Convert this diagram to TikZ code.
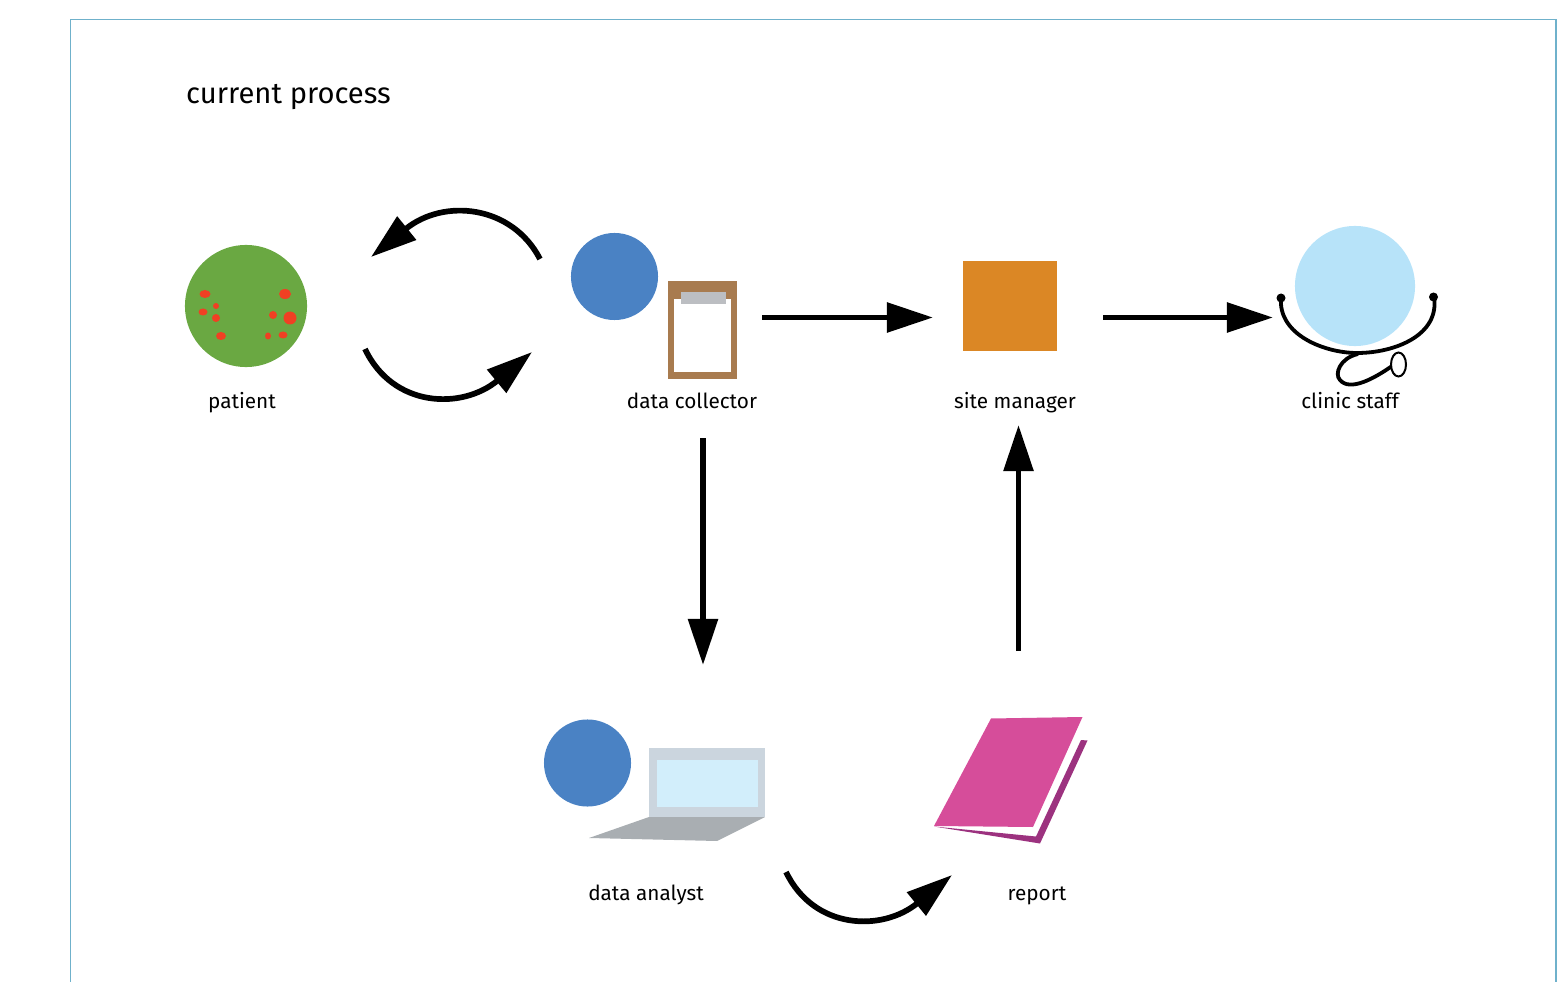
\documentclass[tikz,border=0pt]{standalone}
\usepackage{xcolor}
\usepackage{fontspec}
\setmainfont{Fira Sans}
\usetikzlibrary{arrows.meta}
\definecolor{framecol}{HTML}{6FB1CB}
\definecolor{patientcol}{HTML}{6AA842}
\definecolor{spotcol}{HTML}{F04023}
\definecolor{staffcol}{HTML}{4A82C4}
\definecolor{boardcol}{HTML}{A87B4F}
\definecolor{clipcol}{HTML}{BCBEC2}
\definecolor{managercol}{HTML}{DB8725}
\definecolor{cliniccol}{HTML}{B7E3F9}
\definecolor{lidcol}{HTML}{CBD5DE}
\definecolor{screencol}{HTML}{D2EEFB}
\definecolor{basecol}{HTML}{A9AEB2}
\definecolor{coverhi}{HTML}{D64D9A}
\definecolor{coverlo}{HTML}{9C327F}
\tikzset{
 disc/.style={circle,inner sep=0pt},
 box/.style={rectangle,inner sep=0pt},
 lab/.style={inner sep=0pt,anchor=base,text=black,font=\fontsize{5.9}{8}\selectfont},
 flow/.style={black,line width=.057cm,-{Triangle[length=.46cm,width=.29cm]}},
}

\begin{document}
\begin{tikzpicture} [x=.01cm,y=-.01cm]
\useasboundingbox (0,0) rectangle (1560,982);
\draw[framecol,line width=.014cm] (70.5,982)--(70.5,19.5)--(1556,19.5)--(1556,982);
\node[lab,anchor=base west,font=\fontsize{8.3}{10}\selectfont] (title) at (185.5,104) {current process};

\node[disc,fill=patientcol,minimum size=1.22cm] (patient) at (246,306) {};
\foreach \x/\y/\rx/\ry in {205/294/5.5/4,216/306/3/3,203/312/4.5/3.5,216/318/4/4,221/336/5/4,
  285/294/6/5,273/315/4/4,290/318/6.5/6.5,268/336/3/3.5,283/335/4.5/3.5} {
 \fill[spotcol] (\x,\y) ellipse[x radius=\rx,y radius=\ry];
}
\node[lab] (patientlab) at (242,409) {patient};

\node[disc,fill=staffcol,minimum size=.87cm] (collector) at (614.5,276.5) {};
\node[box,fill=boardcol,minimum width=.69cm,minimum height=.98cm] (board) at (702.5,330) {};
\node[box,fill=white,minimum width=.57cm,minimum height=.73cm] (paper) at (702.5,335.5) {};
\node[box,fill=clipcol,minimum width=.45cm,minimum height=.12cm] (clip) at (703.5,298) {};
\node[lab] (collectorlab) at (692,409) {data collector};

\node[box,fill=managercol,minimum width=.94cm,minimum height=.90cm] (manager) at (1010,306) {};
\node[lab] (managerlab) at (1015,409) {site manager};

\node[disc,fill=cliniccol,minimum size=1.2cm] (clinic) at (1355,286) {};
\draw[black,line width=.038cm] (1281,298) .. controls (1278,335) and (1325,353) .. (1357,353)
  .. controls (1395,353) and (1440,335) .. (1434,297);
\draw[black,line width=.038cm] (1358,354) .. controls (1340,358) and (1334,374) .. (1340,380)
  .. controls (1350,392) and (1375,378) .. (1392,366);
\fill[black] (1281,298) circle[radius=4.5];
\fill[black] (1433.5,297) circle[radius=4.5];
\draw[black,fill=white,line width=.02cm] (1398.5,364.5) ellipse[x radius=7.5,y radius=12];
\node[lab] (cliniclab) at (1350,409) {clinic staff};

\node[disc,fill=staffcol,minimum size=.87cm] (analyst) at (587.5,763) {};
\fill[lidcol] (649,748) rectangle (765,817);
\fill[screencol] (657,760) rectangle (757.5,807);
\fill[basecol] (649,817)--(765,817)--(717,841)--(589,838)--cycle;
\node[lab] (analystlab) at (646,900) {data analyst};

\fill[coverlo] (1081,740)--(1087.5,740.5)--(1040,843.5)--(934,826.5)--(1036,836.5)--cycle;
\fill[coverhi] (991,718.5)--(1082.5,717)--(1033,827)--(934,826)--cycle;
\node[lab] (reportlab) at (1037,900) {report};

\coordinate (patientin) at (371,257);
\coordinate (patientout) at (365,349);
\coordinate (collectorin) at (532,352);
\coordinate (collectorout) at (540,259);
\coordinate (boardout) at (762,317.5);
\coordinate (boarddown) at (703,438);
\coordinate (managerin) at (933,317.5);
\coordinate (managerout) at (1103,317.5);
\coordinate (managerup) at (1018.5,425);
\coordinate (clinicin) at (1273,317.5);
\coordinate (analystin) at (703,665);
\coordinate (analystout) at (786,872);
\coordinate (reportin) at (952,875);
\coordinate (reportup) at (1018.5,651);

\draw[flow] (collectorout) .. controls (512,205) and (444,198) .. (patientin);
\draw[flow] (patientout) .. controls (393,408) and (462,410) .. (collectorin);
\draw[flow] (boardout)--(managerin);
\draw[flow] (managerout)--(clinicin);
\draw[flow] (boarddown)--(analystin);
\draw[flow] (reportup)--(managerup);
\draw[flow] (analystout) .. controls (814,930) and (882,932) .. (reportin);
\end{tikzpicture}
\end{document}
